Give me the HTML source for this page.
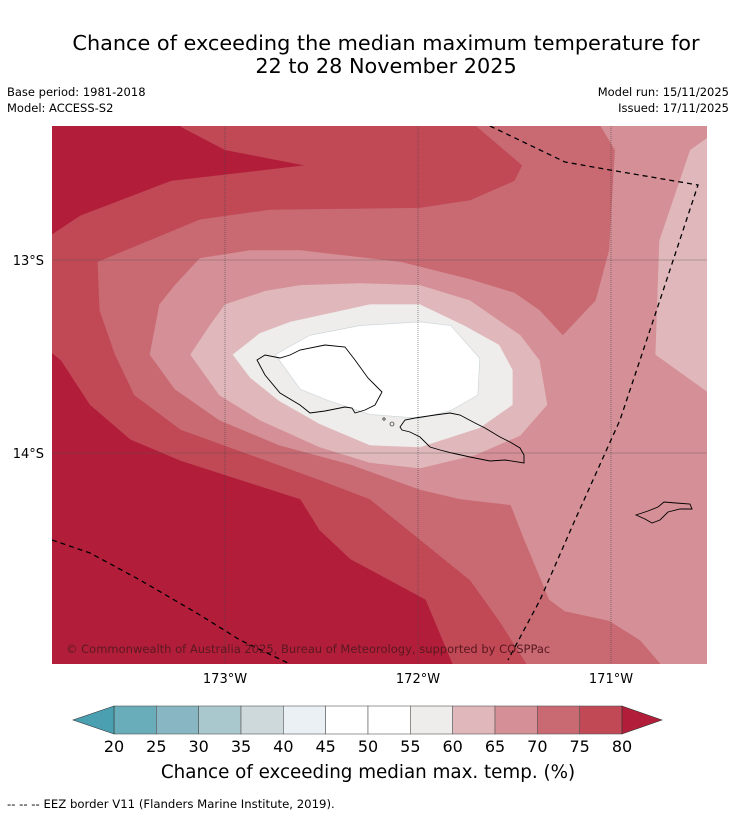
<!DOCTYPE html>
<html><head><meta charset="utf-8"><style>
html,body{margin:0;padding:0;background:#fff;width:736px;height:816px;overflow:hidden;font-family:"DejaVu Sans",sans-serif;}
svg{display:block;font-family:"DejaVu Sans",sans-serif}
</style></head><body>
<svg id="chart" width="736" height="816" viewBox="0 0 736 816" xmlns="http://www.w3.org/2000/svg">
<text x="386" y="50" font-size="20.8" text-anchor="middle" fill="#000">Chance of exceeding the median maximum temperature for</text>
<text x="386" y="73" font-size="20.8" text-anchor="middle" fill="#000">22 to 28 November 2025</text>
<text x="7" y="96" font-size="11.5">Base period: 1981-2018</text>
<text x="7" y="112" font-size="11.5">Model: ACCESS-S2</text>
<text x="729" y="96" font-size="11.5" text-anchor="end">Model run: 15/11/2025</text>
<text x="729" y="112" font-size="11.5" text-anchor="end">Issued: 17/11/2025</text>
<defs><clipPath id="mapclip"><rect x="52" y="126" width="655" height="538"/></clipPath></defs>
<g id="map" clip-path="url(#mapclip)">
<rect x="52" y="126" width="655" height="538" fill="#b21e3a"/>
<g id="contours"></g>
<g stroke="#444" stroke-width="0.7" stroke-dasharray="1,1" opacity="0.8">
<line x1="225" y1="126" x2="225" y2="664"/><line x1="418" y1="126" x2="418" y2="664"/><line x1="611" y1="126" x2="611" y2="664"/>
</g>
<g stroke="#555" stroke-width="0.6" opacity="0.7">
<line x1="52" y1="260" x2="707" y2="260"/><line x1="52" y1="453" x2="707" y2="453"/>
</g>
<path d="M257,360 L265,355 280,358 290,355 300,350 325,345 345,347 355,360 368,378 375,385 382,392 375,405 365,410 355,413 352,408 345,407 325,411 310,413 300,405 280,393 265,375Z" fill="none" stroke="#000" stroke-width="0.9"/>
<path d="M400,427 L405,420 415,418 435,415 450,413 460,415 475,423 485,428 500,437 510,442 520,448 524,455 524,463 505,460 490,461 470,457 452,453 440,450 430,447 420,437 410,432 402,430Z" fill="none" stroke="#000" stroke-width="0.9"/>
<circle cx="384" cy="419" r="1.2" fill="none" stroke="#000" stroke-width="0.6"/>
<circle cx="392" cy="424" r="2" fill="none" stroke="#000" stroke-width="0.6"/>
<path d="M636,515 L648,511 658,507 664,502 676,503 690,504 692,509 680,509 668,512 660,520 652,523 645,519Z" fill="none" stroke="#000" stroke-width="0.9"/>
<polyline points="490,126 565,162 610,170 698,185 660,300 620,420 575,520 540,600 508,660" fill="none" stroke="#000" stroke-width="1.3" stroke-dasharray="5,4"/>
<polyline points="52,540 90,553 140,580 200,615 240,640 290,664" fill="none" stroke="#000" stroke-width="1.3" stroke-dasharray="5,4"/>
<text x="66" y="653" font-size="11.5" fill="#5a1820">© Commonwealth of Australia 2025, Bureau of Meteorology, supported by COSPPac</text>
</g>
<text x="225" y="683" font-size="13" text-anchor="middle">173°W</text>
<text x="418" y="683" font-size="13" text-anchor="middle">172°W</text>
<text x="611" y="683" font-size="13" text-anchor="middle">171°W</text>
<text x="44" y="265" font-size="13" text-anchor="end">13°S</text>
<text x="44" y="458" font-size="13" text-anchor="end">14°S</text>
<g id="colorbar"></g>
<text x="368" y="778" font-size="18.3" text-anchor="middle">Chance of exceeding median max. temp. (%)</text>
<text x="7" y="808" font-size="11.7">--  --  -- EEZ border V11 (Flanders Marine Institute, 2019).</text>
</svg>
<script>
// colorbar data
const levels = [20,25,30,35,40,45,50,55,60,65,70,75,80];
const levelColors = ["#6aadba","#88b6c2","#a9c8cd","#cdd9db","#eaf0f3","#ffffff","#ffffff","#eeedeb","#e0b8bb","#d58f96","#c96a73","#c04955"];
const underColor = "#4a9fb1";
const overColor = "#b21e3a";
// contour data (lon, lat) with lower bound level
const contour75 = [[-173.23,-12.31],[-173.00,-12.43],[-172.59,-12.51],[-173.28,-12.59],[-173.75,-12.77],[-173.90,-12.87],[-173.95,-13.44],[-173.85,-13.52],[-173.70,-13.75],[-173.49,-13.93],[-173.23,-14.04],[-172.61,-14.24],[-172.51,-14.40],[-172.35,-14.55],[-171.96,-14.76],[-171.81,-15.12],[-170.45,-15.12],[-170.45,-12.28],[-173.23,-12.28]];
const contour70 = [[-171.73,-12.28],[-171.46,-12.51],[-171.50,-12.59],[-171.73,-12.69],[-171.99,-12.73],[-172.77,-12.74],[-173.13,-12.79],[-173.66,-13.01],[-173.65,-13.26],[-173.57,-13.49],[-173.47,-13.70],[-173.23,-13.88],[-172.87,-14.01],[-172.51,-14.14],[-172.25,-14.24],[-171.99,-14.45],[-171.73,-14.66],[-171.58,-14.87],[-171.42,-15.12],[-170.45,-15.12],[-170.45,-12.28]];
const contour65 = [[-171.07,-12.28],[-170.98,-12.43],[-171.01,-12.95],[-171.08,-13.21],[-171.25,-13.39],[-171.37,-13.26],[-171.50,-13.17],[-171.73,-13.10],[-172.09,-13.01],[-172.61,-12.95],[-172.87,-12.95],[-173.13,-12.99],[-173.26,-13.13],[-173.34,-13.23],[-173.39,-13.49],[-173.26,-13.67],[-173.03,-13.83],[-172.72,-13.96],[-172.35,-14.06],[-171.99,-14.19],[-171.78,-14.24],[-171.52,-14.27],[-171.45,-14.45],[-171.32,-14.76],[-171.24,-14.82],[-171.01,-14.87],[-170.85,-14.97],[-170.72,-15.12],[-170.45,-15.12],[-170.45,-12.28]];
const contour60East = [[-170.45,-12.33],[-170.59,-12.43],[-170.75,-12.90],[-170.77,-13.49],[-170.45,-13.72]];
const contour60 = [[-173.18,-13.49],[-173.08,-13.34],[-173.00,-13.23],[-172.79,-13.16],[-172.61,-13.13],[-172.30,-13.12],[-171.99,-13.13],[-171.73,-13.21],[-171.47,-13.39],[-171.37,-13.52],[-171.33,-13.75],[-171.47,-13.91],[-171.70,-14.01],[-171.99,-14.08],[-172.25,-14.05],[-172.51,-13.97],[-172.82,-13.83],[-173.03,-13.70]];
const contour55 = [[-172.96,-13.49],[-172.82,-13.38],[-172.66,-13.32],[-172.25,-13.23],[-171.99,-13.23],[-171.76,-13.34],[-171.58,-13.44],[-171.51,-13.57],[-171.51,-13.75],[-171.68,-13.87],[-171.99,-13.97],[-172.25,-13.96],[-172.51,-13.85],[-172.72,-13.73],[-172.87,-13.61]];
const contour50 = [[-172.74,-13.49],[-172.56,-13.39],[-172.30,-13.34],[-171.99,-13.32],[-171.83,-13.34],[-171.68,-13.51],[-171.69,-13.70],[-171.83,-13.78],[-171.99,-13.82],[-172.25,-13.80],[-172.46,-13.73],[-172.61,-13.67]];
const contourLevels = [75,70,65,60,60,55,50];

const NS="http://www.w3.org/2000/svg";
const PX_PER_DEG=193;
function xLon(lon){return 225+(lon+173)*PX_PER_DEG;}
function yLat(lat){return 260+(-13-lat)*PX_PER_DEG;}
function colorFor(level){return levelColors[levels.indexOf(level)];}

const contourSets=[contour75,contour70,contour65,contour60East,contour60,contour55,contour50];
const contourNames=['contour-75-80','contour-70-75','contour-65-70','contour-60-65-east','contour-60-65','contour-55-60','contour-50-55'];
const cg=document.getElementById('contours');
contourSets.forEach((pts,i)=>{
  const p=document.createElementNS(NS,'polygon');
  p.setAttribute('points',pts.map(d=>xLon(d[0]).toFixed(1)+','+yLat(d[1]).toFixed(1)).join(' '));
  p.setAttribute('fill',colorFor(contourLevels[i]));
  if(contourLevels[i]<=50){p.setAttribute('stroke','#c8d2d6');p.setAttribute('stroke-width','0.6');}
  
  
  cg.appendChild(p);
});

// colorbar
const cb=document.getElementById('colorbar');
const cbX0=114, cbX1=622, cbY=706, cbH=28;
function xLevel(v){return cbX0+(v-levels[0])/(levels[levels.length-1]-levels[0])*(cbX1-cbX0);}
for(let i=0;i<levels.length-1;i++){
  const r=document.createElementNS(NS,'rect');
  const x0=xLevel(levels[i]), x1=xLevel(levels[i+1]);
  r.setAttribute('x',x0);r.setAttribute('y',cbY);r.setAttribute('width',x1-x0);r.setAttribute('height',cbH);
  r.setAttribute('fill',levelColors[i]);r.setAttribute('stroke','#555');r.setAttribute('stroke-width','0.6');
  
  
  cb.appendChild(r);
}
const under=document.createElementNS(NS,'polygon');
under.setAttribute('points',`${cbX0},${cbY} 73,${cbY+cbH/2} ${cbX0},${cbY+cbH}`);
under.setAttribute('fill',underColor);under.setAttribute('stroke','#333');under.setAttribute('stroke-width','0.6');


cb.appendChild(under);
const over=document.createElementNS(NS,'polygon');
over.setAttribute('points',`${cbX1},${cbY} 662,${cbY+cbH/2} ${cbX1},${cbY+cbH}`);
over.setAttribute('fill',overColor);over.setAttribute('stroke','#333');over.setAttribute('stroke-width','0.6');


cb.appendChild(over);
levels.forEach(v=>{
  const t=document.createElementNS(NS,'text');
  t.setAttribute('x',xLevel(v));t.setAttribute('y',752);t.setAttribute('font-size','16');t.setAttribute('text-anchor','middle');
  t.textContent=v;
  
  
  cb.appendChild(t);
});
</script>
</body></html>
